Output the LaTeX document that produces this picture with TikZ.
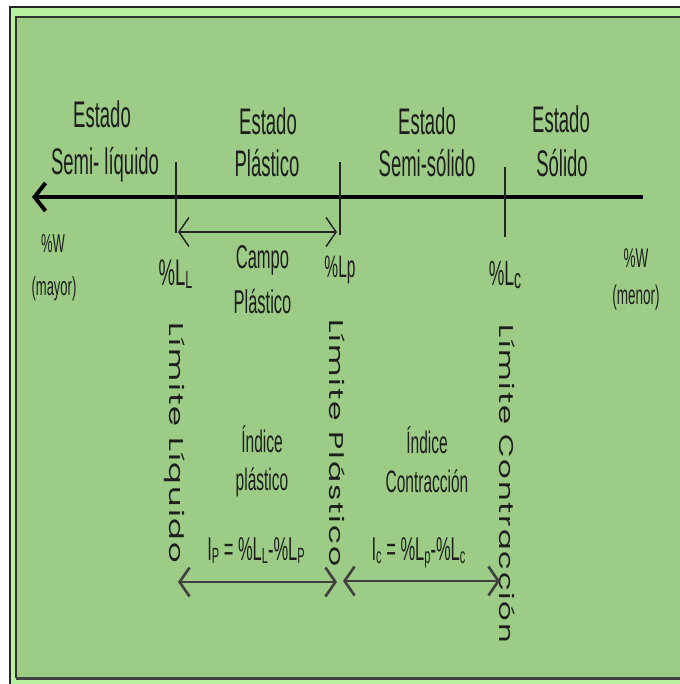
\documentclass[tikz,border=0pt]{standalone}
\usepackage{fontspec}
\setmainfont{Liberation Sans}[FakeStretch=0.5]
\newfontfamily\gothic{Poppins}[LetterSpace=6]
\usetikzlibrary{arrows.meta}
\definecolor{bgg}{RGB}{157,204,134}
\definecolor{band}{RGB}{182,240,160}
\definecolor{ink}{RGB}{30,30,30}
\newcommand{\fsz}[1]{\fontsize{#1}{#1}\selectfont}
\newcommand{\sbx}[2]{\raisebox{-3pt}{\fsz{#1}#2}}
\newcommand{\vlab}[2]{\resizebox{#1}{\height}{\gothic\fsz{20}#2}}
\tikzset{
  lbl/.style={anchor=base, inner sep=0pt, text=ink},
  vert/.style={rotate=-90, inner sep=0pt, text=ink},
  tick/.style={line width=1.4pt, black!85},
  mainarr/.style={line width=4pt, black, -{Straight Barb[length=11pt,width=28pt]}},
  camparr/.style={line width=1.5pt, black!85, {Straight Barb[length=10pt,width=29pt]}-{Straight Barb[length=10pt,width=29pt]}},
  botarr/.style={line width=2.6pt, black!75, {Straight Barb[length=10pt,width=29pt]}-{Straight Barb[length=10pt,width=29pt]}}
}
\begin{document}
\begin{tikzpicture}[x=1pt,y=-1pt]
\useasboundingbox (0,0) rectangle (679,684);
\fill[white] (0,0) rectangle (682,687);
\fill[band] (10,7) rectangle (682,687);
\draw[black!85, line width=1.2pt] (10,687) -- (10,7) -- (682,7);
\fill[bgg] (16,17) rectangle (682,678);
\draw[black!80, line width=1.5pt] (16,678) -- (16,17) -- (682,17);
\draw[black!75, line width=2.5pt] (16,678.5) -- (682,678.5);

% states
\node[lbl] (e1a) at (102,128) {\fsz{37}Estado};
\node[lbl] (e1b) at (105,175) {\fsz{37}Semi- líquido};
\node[lbl] (e2a) at (268,135) {\fsz{37}Estado};
\node[lbl] (e2b) at (267,177) {\fsz{37}Plástico};
\node[lbl] (e3a) at (427,135) {\fsz{37}Estado};
\node[lbl] (e3b) at (427,177) {\fsz{37}Semi-sólido};
\node[lbl] (e4a) at (561,133) {\fsz{37}Estado};
\node[lbl] (e4b) at (562,177) {\fsz{37}Sólido};

% main axis
\coordinate (mR) at (643,197);
\coordinate (mL) at (32,197);
\draw[mainarr] (mR) -- (mL);

% ticks
\coordinate (t1a) at (176,162); \coordinate (t1b) at (176,233);
\coordinate (t2a) at (340,162); \coordinate (t2b) at (340,235);
\coordinate (t3a) at (505,167); \coordinate (t3b) at (505,237);
\draw[tick] (t1a) -- (t1b);
\draw[tick] (t2a) -- (t2b);
\draw[tick] (t3a) -- (t3b);

% campo plastico arrow
\coordinate (cpL) at (178,232);
\coordinate (cpR) at (337,232);
\draw[camparr] (cpL) -- (cpR);

% lower labels
\node[lbl] (wl1) at (53,252) {\fsz{26}\%W};
\node[lbl] (wl2) at (54,295) {\fsz{26}(mayor)};
\node[lbl] (wr1) at (636,267) {\fsz{27}\%W};
\node[lbl] (wr2) at (636,304) {\fsz{27}(menor)};
\node[lbl] (pLL) at (175.5,285) {\fsz{37}\%L\sbx{25}{L}};
\node[lbl] (pLp) at (340,277) {\fsz{31}\%Lp};
\node[lbl] (pLc) at (505,285) {\fsz{35}\%L\sbx{28}{c}};
\node[lbl] (cp1) at (262.5,268) {\fsz{33}Campo};
\node[lbl] (cp2) at (262.5,313) {\fsz{33}Plástico};

% vertical labels
\node[vert] (v1) at (175,443) {\vlab{240pt}{Límite Líquido}};
\node[vert] (v2) at (337,443) {\vlab{247pt}{Límite Plástico}};
\node[vert] (v3) at (507,484) {\vlab{318pt}{Límite Contracción}};

% indices
\node[lbl] (ip1) at (262,452) {\fsz{31}Índice};
\node[lbl] (ip2) at (262,490) {\fsz{31}plástico};
\node[lbl] (ic1) at (427,453) {\fsz{31}Índice};
\node[lbl] (ic2) at (427,492) {\fsz{31}Contracción};
\node[lbl] (f1) at (256,560) {\fsz{33}I\sbx{22}{P} = \%L\sbx{22}{L}-\%L\sbx{22}{P}};
\node[lbl] (f2) at (418.5,560) {\fsz{33}I\sbx{22}{c} = \%L\sbx{22}{p}-\%L\sbx{22}{c}};

% bottom arrows
\coordinate (b1L) at (178,582); \coordinate (b1R) at (337,582);
\coordinate (b2L) at (343,581); \coordinate (b2R) at (500,581);
\draw[botarr] (b1L) -- (b1R);
\draw[botarr] (b2L) -- (b2R);
\end{tikzpicture}
\end{document}
